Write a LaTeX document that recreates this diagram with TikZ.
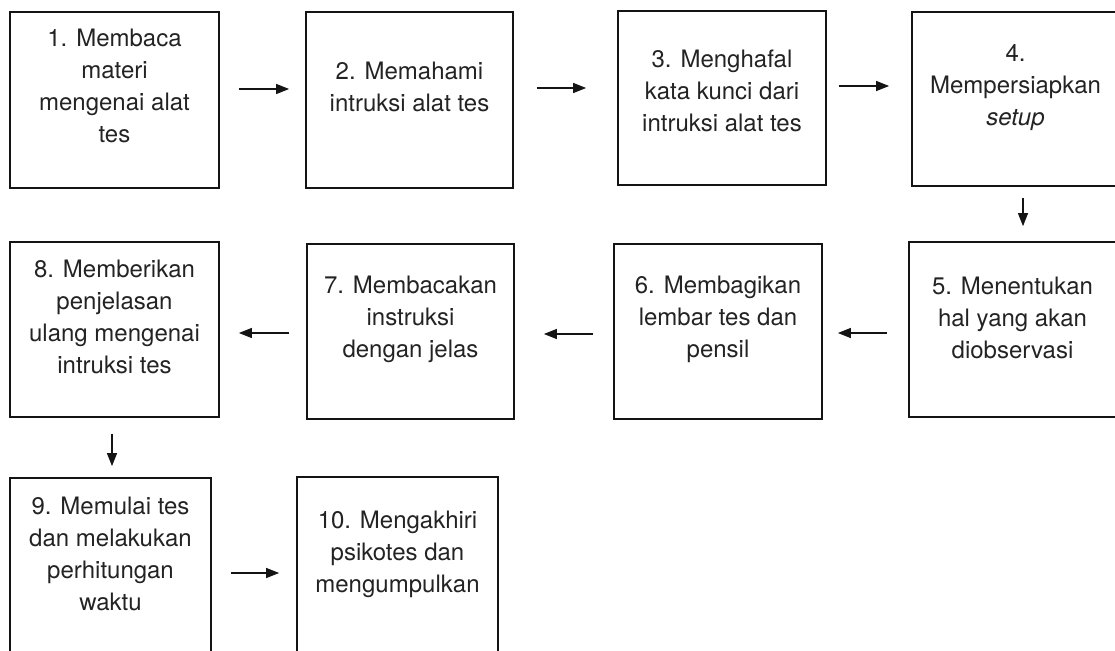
\documentclass[tikz,border=0pt]{standalone}
\usepackage{fontspec}
\setmainfont{TeX Gyre Heros}
\usetikzlibrary{arrows.meta}
\definecolor{inkline}{RGB}{20, 20, 20}
\definecolor{inktext}{RGB}{35, 35, 35}

\begin{document}
\begin{tikzpicture}[x=1pt, y=-1pt,
	box/.style={draw=inkline, line width=1.7pt, rectangle, inner sep=0pt},
	txt/.style={align=center, text=inktext, inner sep=0pt, font=\fontsize{24}{32}\selectfont},
	arr/.style={draw=inkline, line width=1.1pt, -{Triangle[length=13pt, width=10pt]}}]
	\useasboundingbox (0, 0) rectangle (1115, 650);
	\clip (0, 0) rectangle (1115, 650);

	% step boxes
	\foreach \n/\x/\y/\w/\h in {
		b1/114.5/100/209/176,    b2/409.5/100/207/176,
		b3/722/98/208/174,       b4/1015.5/99/207/174,
		b5/1012.5/329.5/207/175, b6/718/331.5/208/175,
		b7/410.5/331.5/207/175,  b8/114.5/329.5/209/175,
		b9/110.5/566.5/201/177,  b10/397.5/566/201/178
	}{
		\node[box, minimum width=\w pt, minimum height=\h pt] (\n) at (\x, \y) {};
	}

	% step texts
	\node[txt] (t1) at (114.5, 86) {1. Membaca\\materi\\mengenai alat\\tes};
	\node[txt] (t2) at (409.5, 87) {2. Memahami\\intruksi alat tes};
	\node[txt] (t3) at (722, 91) {3. Menghafal\\kata kunci dari\\intruksi alat tes};
	\node[txt] (t4) at (1015.5, 88) {4.\\Mempersiapkan\\\textit{setup}};
	\node[txt] (t5) at (1012.5, 318) {5. Menentukan\\hal yang akan\\diobservasi};
	\node[txt] (t6) at (718, 319) {6. Membagikan\\lembar tes dan\\pensil};
	\node[txt] (t7) at (410.5, 319) {7. Membacakan\\instruksi\\dengan jelas};
	\node[txt] (t8) at (114.5, 317) {8. Memberikan\\penjelasan\\ulang mengenai\\intruksi tes};
	\node[txt] (t9) at (110.5, 554) {9. Memulai tes\\dan melakukan\\perhitungan\\waktu};
	\node[txt] (t10) at (397.5, 554) {10. Mengakhiri\\psikotes dan\\mengumpulkan};

	% arrows to the right
	\foreach \a/\b/\y/\s/\e in {
		b1/b2/89/19/16, b2/b3/88/23/31, b3/b4/86/12/22,
		b9/b10/573/19/17
	}{
		\draw[arr, shorten <=\s pt, shorten >=\e pt] (\a.east |- 0,\y) -- (\b.west |- 0,\y);
	}

	% arrows to the left
	\foreach \a/\b/\y/\s/\e in {
		b5/b6/333/21/15, b6/b7/334/20/29, b7/b8/333/17/19
	}{
		\draw[arr, shorten <=\s pt, shorten >=\e pt] (\a.west |- 0,\y) -- (\b.east |- 0,\y);
	}

	% arrows down
	\foreach \a/\b/\x/\s/\e in {
		b4/b5/1023/11/15, b8/b9/112/16/11
	}{
		\draw[arr, shorten <=\s pt, shorten >=\e pt] (\a.south -| \x,0) -- (\b.north -| \x,0);
	}
\end{tikzpicture}
\end{document}
